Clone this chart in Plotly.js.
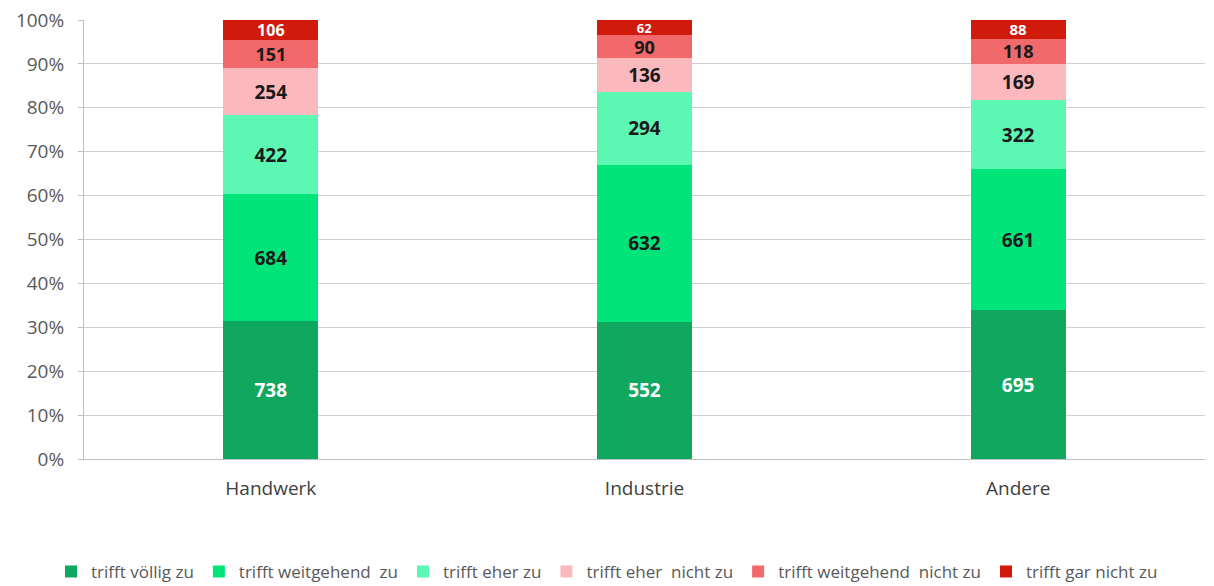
<!DOCTYPE html>
<html><head><meta charset="utf-8">
<script src="https://cdn.plot.ly/plotly-3.0.1.min.js"></script>
<style>html,body{margin:0;padding:0;background:#fff}#chart{width:1214px;height:586px}</style>
</head><body><div id="chart"></div>
<script>
const categories = ["Handwerk", "Industrie", "Andere"];
const seriesNames = ["trifft völlig zu", "trifft weitgehend  zu", "trifft eher zu", "trifft eher  nicht zu", "trifft weitgehend  nicht zu", "trifft gar nicht zu"];
const voellig = [738, 552, 695];
const weitgehend = [684, 632, 661];
const eher = [422, 294, 322];
const eherNicht = [254, 136, 169];
const weitgehendNicht = [151, 90, 118];
const garNicht = [106, 62, 88];
const tickVals = [0,10,20,30,40,50,60,70,80,90,100];
const tickText = ["0%","10%","20%","30%","40%","50%","60%","70%","80%","90%","100%"];

const seriesValues = [voellig, weitgehend, eher, eherNicht, weitgehendNicht, garNicht];
const colors = ["#10a85e", "#00e47a", "#5cf7b2", "#fbb9bd", "#f2696b", "#cf1a0c"];
const textColors = ["#ffffff", "#1a1a1a", "#1a1a1a", "#1a1a1a", "#1a1a1a", "#ffffff"];
const labelSizes = [19, 19, 19, 19, 18, [16, 13, 15]];
const FONT = "'Open Sans', Lato, sans-serif";

const traces = seriesValues.map((vals, i) => ({
  type: "bar",
  name: seriesNames[i],
  x: categories,
  y: vals,
  text: vals.map(String),
  textposition: "inside",
  insidetextanchor: "middle",
  textangle: 0,
  constraintext: "none",
  textfont: {family: FONT, size: labelSizes[i], color: textColors[i], weight: "bold"},
  marker: {color: colors[i], line: {width: 0}},
  hoverinfo: "none"
}));

const layout = {
  width: 1214, height: 586,
  barmode: "stack",
  barnorm: "percent",
  bargap: 0.746,
  paper_bgcolor: "#fff",
  plot_bgcolor: "#fff",
  margin: {l: 84, r: 9, t: 20, b: 127},
  font: {family: FONT, color: "#595959", size: 19},
  uniformtext: {mode: false},
  xaxis: {
    showline: true, linecolor: "#bfbfbf", linewidth: 1,
    ticks: "", tickfont: {size: 19, color: "#404040"},
    ticklabelstandoff: 12,
    showgrid: false
  },
  yaxis: {
    range: [0, 100], tickvals: tickVals, ticktext: tickText,
    showgrid: true, gridcolor: "#d0d0d0", gridwidth: 1,
    showline: true, linecolor: "#bfbfbf", linewidth: 1,
    ticks: "outside", ticklen: 5, tickcolor: "#bfbfbf",
    tickfont: {size: 19, color: "#595959"},
    ticklabelstandoff: 10,
    zeroline: false
  },
  legend: {
    orientation: "h", xref: "container", x: 0.5, xanchor: "center",
    yref: "container", y: 0.024, yanchor: "middle",
    font: {size: 17, color: "#595959"},
    itemwidth: 30, tracegroupgap: 0,
    traceorder: "normal"
  },
  showlegend: true
};

Plotly.newPlot("chart", traces, layout, {displayModeBar: false, staticPlot: true});
</script>
</body></html>
